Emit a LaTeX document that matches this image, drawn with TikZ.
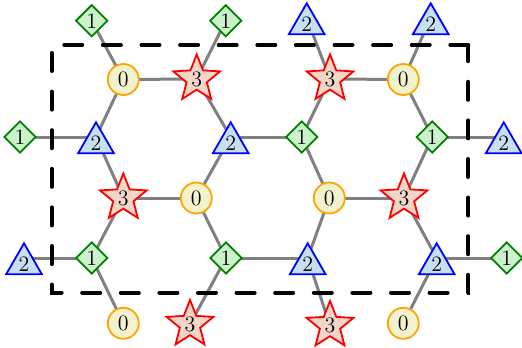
\documentclass[tikz,border=0pt]{standalone}
\usetikzlibrary{shapes.geometric}
\definecolor{cfill}{RGB}{242,242,204}
\definecolor{cdraw}{RGB}{255,165,0}
\definecolor{sfill}{RGB}{242,214,200}
\definecolor{sdraw}{RGB}{255,0,0}
\definecolor{dfill}{RGB}{204,242,204}
\definecolor{ddraw}{RGB}{0,128,0}
\definecolor{tfill}{RGB}{198,224,242}
\definecolor{tdraw}{RGB}{0,0,255}
\definecolor{edgec}{RGB}{128,128,128}
\tikzset{
  lbl/.style={inner sep=0pt, font=\fontsize{11}{13}\selectfont, line width=0.9pt},
  circ/.style={lbl, circle, minimum size=15.5pt, fill=cfill, draw=cdraw},
  starn/.style={lbl, star, star points=5, star point ratio=2.3, minimum size=22.5pt, fill=sfill, draw=sdraw},
  diam/.style={lbl, diamond, aspect=1, minimum size=16pt, fill=dfill, draw=ddraw},
  tri/.style={lbl, regular polygon, regular polygon sides=3, minimum size=19.5pt, fill=tfill, draw=tdraw, yshift=-3pt},
  edge/.style={draw=edgec, line width=1.5pt},
  frame/.style={draw=black, line width=2pt, line cap=round, dash pattern=on 9pt off 10.3pt}
}
\begin{document}
\begin{tikzpicture}[x=0.5pt, y=-0.5pt]
\useasboundingbox (0,0) rectangle (522,347);
% lattice points
\coordinate (pD1) at (91.7,20.7);
\coordinate (pD2) at (225.7,20.7);
\coordinate (pT1) at (306.7,18);
\coordinate (pT2) at (430.7,18);
\coordinate (pC1) at (123.3,79.5);
\coordinate (pS1) at (196.7,79);
\coordinate (pS2) at (330,79);
\coordinate (pC2) at (403.3,79.5);
\coordinate (pD3) at (20,137);
\coordinate (pT3) at (96,137);
\coordinate (pT4) at (230.7,137);
\coordinate (pD4) at (301.7,137);
\coordinate (pD5) at (432.3,137);
\coordinate (pT5) at (503.7,137);
\coordinate (pS3) at (123.3,198);
\coordinate (pC3) at (196.3,198);
\coordinate (pC4) at (329.3,198);
\coordinate (pS4) at (404,198);
\coordinate (pT6) at (24,258);
\coordinate (pD6) at (91.7,258);
\coordinate (pD7) at (226,258);
\coordinate (pT7) at (307.7,258);
\coordinate (pT8) at (436.7,258);
\coordinate (pD8) at (506.7,258);
\coordinate (pC5) at (123.3,323.3);
\coordinate (pS5) at (190,324.5);
\coordinate (pS6) at (330,325.5);
\coordinate (pC6) at (403.3,323.3);
% frame corners
\coordinate (ftr) at (468.3,45);
\coordinate (ftl) at (51.7,45);
\coordinate (fbl) at (51.7,292.7);
\coordinate (fbr) at (468.3,292.7);
% edges
\foreach \a/\b in {D1/C1, D2/S1, T1/S2, T2/C2, C1/S1, S2/C2, D3/T3, C1/T3, S1/T4,
  T4/D4, S2/D4, C2/D5, D5/T5, T3/S3, T4/C3, D4/C4, D5/S4, S3/C3, C4/S4,
  S3/D6, C3/D7, C4/T7, S4/T8, T6/D6, D7/T7, T8/D8, D6/C5, D7/S5, T7/S6, T8/C6}
  \draw[edge] (p\a) -- (p\b);
% dashed frame
\draw[frame] (ftr) -- (ftl) -- (fbl) -- (fbr) -- cycle;
% nodes
\node[diam] (D1) at (pD1) {1};
\node[diam] (D2) at (pD2) {1};
\node[tri] (T1) at (pT1) {2};
\node[tri] (T2) at (pT2) {2};
\node[circ] (C1) at (pC1) {0};
\node[starn] (S1) at (pS1) {3};
\node[starn] (S2) at (pS2) {3};
\node[circ] (C2) at (pC2) {0};
\node[diam] (D3) at (pD3) {1};
\node[tri] (T3) at (pT3) {2};
\node[tri] (T4) at (pT4) {2};
\node[diam] (D4) at (pD4) {1};
\node[diam] (D5) at (pD5) {1};
\node[tri] (T5) at (pT5) {2};
\node[starn] (S3) at (pS3) {3};
\node[circ] (C3) at (pC3) {0};
\node[circ] (C4) at (pC4) {0};
\node[starn] (S4) at (pS4) {3};
\node[tri] (T6) at (pT6) {2};
\node[diam] (D6) at (pD6) {1};
\node[diam] (D7) at (pD7) {1};
\node[tri] (T7) at (pT7) {2};
\node[tri] (T8) at (pT8) {2};
\node[diam] (D8) at (pD8) {1};
\node[circ] (C5) at (pC5) {0};
\node[starn] (S5) at (pS5) {3};
\node[starn] (S6) at (pS6) {3};
\node[circ] (C6) at (pC6) {0};
\end{tikzpicture}
\end{document}
